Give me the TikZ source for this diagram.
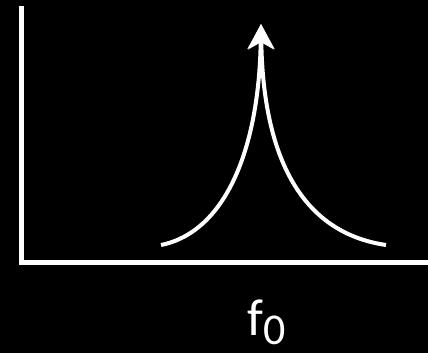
\documentclass[tikz,border=0pt]{standalone}
\usepackage{fontspec}
\setmainfont{Carlito}
\usetikzlibrary{arrows.meta}
\tikzset{
    axisline/.style={white, line width=4.5pt},
    peakline/.style={white, line width=4pt, -{Stealth[length=25pt, width=26pt, inset=7pt]}}
}
\begin{document}
\begin{tikzpicture}[x=1pt,y=-1pt]
    % Черный фон, размер как у исходника.
    \fill[black] (0,0) rectangle (428,353);
    \useasboundingbox (0,0) rectangle (428,353);
    \coordinate (origin) at (21.5,262.5);
    \coordinate (ytop) at (21.5,6);
    \coordinate (xend) at (428,262.5);
    \coordinate (peak) at (261,24);
    \coordinate (lfoot) at (161,245);
    \coordinate (rfoot) at (386,245);
    \draw[axisline] (ytop) -- (origin) -- (xend);
    \draw[peakline] (lfoot) .. controls (225,232) and (259,150) .. (peak);
    \draw[peakline] (rfoot) .. controls (297,232) and (263,150) .. (peak);
    \node[white, anchor=base west, inner sep=0pt] (flabel) at (247,335)
        {\fontsize{52}{60}\selectfont f\raisebox{-9pt}{\fontsize{44}{50}\selectfont 0}};
\end{tikzpicture}
\end{document}
